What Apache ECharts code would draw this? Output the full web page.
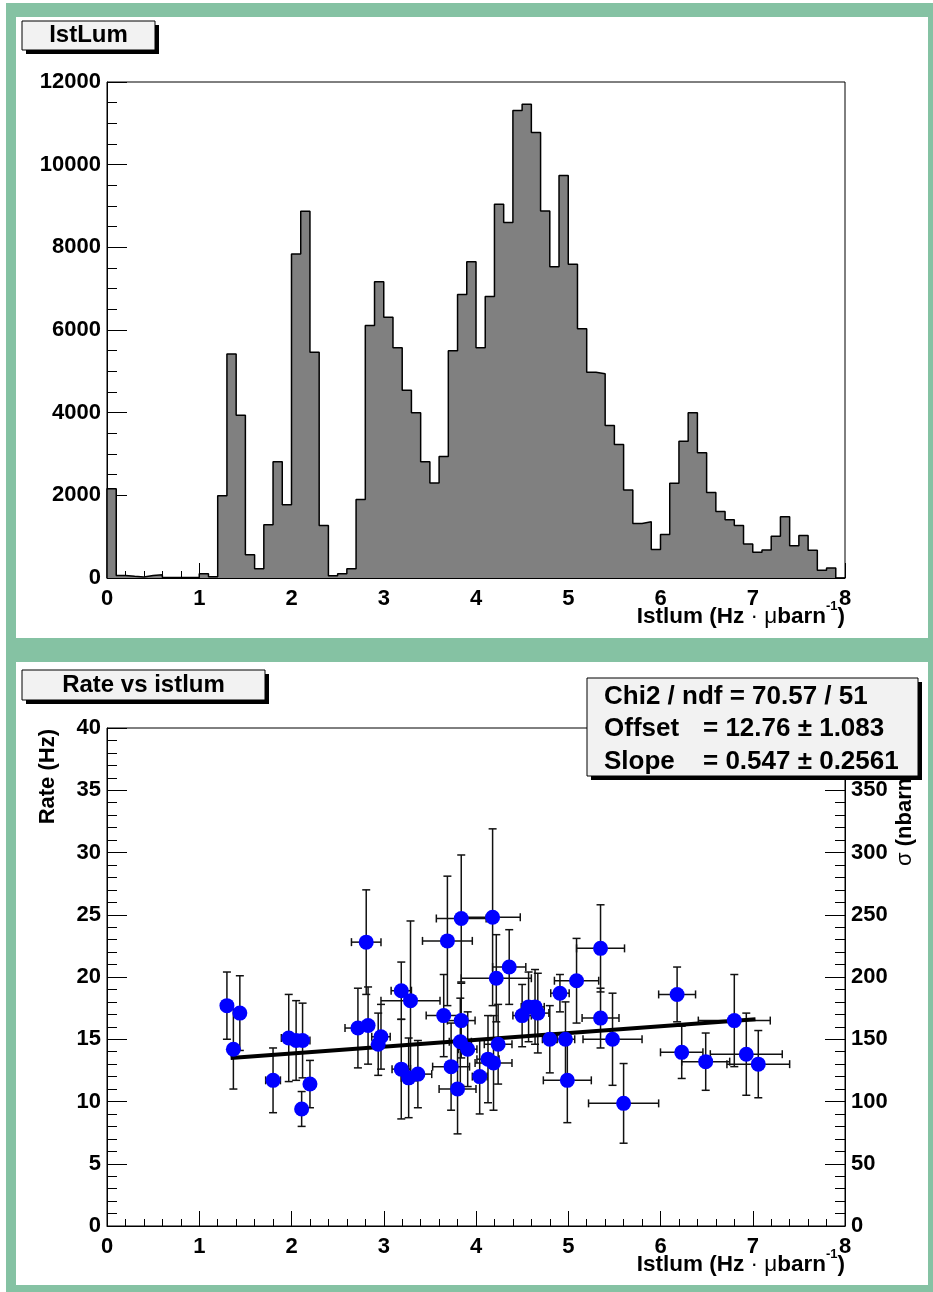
<!DOCTYPE html>
<html><head><meta charset="utf-8">
<script src="https://cdn.jsdelivr.net/npm/echarts@6/dist/echarts.min.js"></script>
<style>
html,body{margin:0;padding:0;background:#fff;}
#chart{width:933px;height:1292px;}
</style></head><body>
<div id="chart"></div>
<script>
// ---------- DATA ----------
// Top histogram: 80 bins of width 0.1 from 0 to 8
const histLow = 0;
const histBinWidth = 0.1;
const histCounts = [
  2160, 60, 40, 25, 60, 80, 15, 10, 10, 10,
  105, 30, 1990, 5420, 3940, 565, 225, 1290, 2810, 1770,
  7840, 8870, 5460, 1270, 55, 105, 225, 1900, 6110, 7170,
  6310, 5570, 4540, 4000, 2810, 2300, 2940, 5500, 6860, 7650,
  5570, 6810, 9040, 8600, 11310, 11460, 10780, 8880, 7530, 9740,
  7590, 6030, 4980, 4940, 3690, 3230, 2130, 1320, 1360, 690,
  1050, 2290, 3310, 4000, 3030, 2070, 1610, 1410, 1270, 820,
  620, 680, 1010, 1480, 780, 1030, 670, 190, 240, 0
];
// Bottom graph: rate vs istlum  [x, y, xErr, yErr]
const rateX = [1.30,1.37,1.44,1.80,1.97,2.05,2.12,2.11,2.20,2.72,2.81,2.83,2.94,2.97,3.19,3.29,3.19,3.27,3.37,3.65,3.69,3.84,3.84,3.83,3.91,3.73,3.80,4.04,4.13,4.19,4.18,4.22,4.24,4.36,4.50,4.57,4.64,4.67,4.80,4.91,4.97,4.99,5.09,5.35,5.35,5.48,5.60,6.18,6.23,6.49,6.80,6.93,7.06];
const rateY = [17.7,14.2,17.1,11.7,15.1,14.9,14.9,9.4,11.4,15.9,22.8,16.1,14.6,15.2,18.9,18.1,12.6,11.9,12.2,16.9,22.9,24.7,16.5,14.8,14.2,12.8,11.0,12.0,13.4,13.1,24.8,19.9,14.6,20.8,16.9,17.6,17.6,17.1,15.0,18.7,15.0,11.7,19.7,22.3,16.7,15.0,9.85,18.6,13.95,13.2,16.5,13.8,13.0];
const rateXErr = [0.03,0.03,0.03,0.08,0.08,0.08,0.08,0.05,0.05,0.14,0.16,0.06,0.06,0.10,0.11,0.32,0.10,0.08,0.15,0.19,0.27,0.27,0.15,0.12,0.10,0.20,0.20,0.08,0.12,0.20,0.30,0.38,0.15,0.18,0.10,0.08,0.10,0.12,0.08,0.10,0.10,0.26,0.24,0.26,0.20,0.32,0.38,0.20,0.23,0.26,0.39,0.39,0.34];
const rateYErr = [2.7,3.2,3.0,2.6,3.5,3.2,3.0,1.4,1.9,3.2,4.2,3.1,2.5,2.6,2.3,6.4,4.0,3.2,2.7,3.3,5.2,5.1,3.0,3.5,3.0,3.5,3.6,3.0,3.5,3.8,7.1,3.5,3.2,3.0,2.5,2.8,3.0,3.2,2.7,1.5,3.0,3.4,3.4,3.5,2.4,3.7,3.2,2.2,2.1,2.3,3.7,3.3,2.7];
// Fit line end points
const fitLine = [[1.34, 13.49], [7.03, 16.61]];
// Texts
const topTitle = 'IstLum';
const bottomTitle = 'Rate vs istlum';
const statsLines = [['Chi2 / ndf = 70.57 / 51', ''], ['Offset', '= 12.76 \u00b1 1.083'], ['Slope', '= 0.547 \u00b1 0.2561']];

// ---------- BUILD ----------
const FONT = '"Liberation Sans", Arial, Helvetica, sans-serif';
const stepPts = [[histLow, 0]];
histCounts.forEach((c, i) => stepPts.push([histLow + i * histBinWidth, c]));
stepPts.push([histLow + histCounts.length * histBinWidth, 0]);

const pts = rateX.map((x, i) => [x, rateY[i], rateXErr[i], rateYErr[i]]);

const GREEN = '#85c2a3';
const labelStyle = {fontFamily: FONT, fontWeight: 'bold', fontSize: 22, color: '#000'};
function xAxisCfg(gi) {
  return {
    type: 'value', gridIndex: gi, min: 0, max: 8, interval: 1,
    axisLine: {show: true, onZero: false, lineStyle: {color: '#000', width: 1}},
    axisTick: {show: true, inside: true, length: 15, lineStyle: {color: '#000', width: 1}},
    minorTick: {show: true, splitNumber: 5, length: 7, lineStyle: {color: '#000', width: 1}},
    splitLine: {show: false},
    axisLabel: Object.assign({margin: 10, formatter: v => String(v), showMinLabel: true, showMaxLabel: true}, labelStyle)
  };
}
function yAxisCfg(gi, max, interval, minorSplit, pos) {
  return {
    type: 'value', gridIndex: gi, min: 0, max: max, interval: interval, position: pos || 'left',
    axisLine: {show: true, onZero: false, lineStyle: {color: '#000', width: 1}},
    axisTick: {show: true, inside: true, length: 20, lineStyle: {color: '#000', width: 1}},
    minorTick: {show: true, splitNumber: minorSplit, length: 10, lineStyle: {color: '#000', width: 1}},
    splitLine: {show: false},
    axisLabel: Object.assign({margin: 6, formatter: v => String(v), showMinLabel: true, showMaxLabel: true}, labelStyle)
  };
}

function titleBox(x, y, w, h, text) {
  return [
    {type: 'rect', z: 100, shape: {x: x + 4, y: y + 4, width: w, height: h}, style: {fill: '#000'}},
    {type: 'rect', z: 101, shape: {x: x, y: y, width: w, height: h}, style: {fill: '#f2f2f2', stroke: '#000', lineWidth: 1}},
    {type: 'text', z: 102, x: x + w / 2, y: y + h / 2, style: {text: text, fill: '#000', font: 'bold 24px ' + FONT, align: 'center', verticalAlign: 'middle'}}
  ];
}

function axisTitle(x, y) {
  return {
    type: 'text', z: 50, x: x, y: y,
    style: {
      text: '{a|Istlum (Hz }{m|\u00b7}{a| }{m|\u03bc}{a|barn}{s|-1}{a|)}',
      align: 'right', verticalAlign: 'middle',
      rich: {
        a: {fontFamily: FONT, fontWeight: 'bold', fontSize: 22.5, lineHeight: 28, verticalAlign: 'bottom', fill: '#000'},
        m: {fontFamily: FONT, fontWeight: 'normal', fontSize: 22.5, lineHeight: 28, verticalAlign: 'bottom', fill: '#000'},
        s: {fontFamily: FONT, fontWeight: 'bold', fontSize: 13, lineHeight: 13, verticalAlign: 'top', fill: '#000'}
      }
    }
  };
}

const graphics = [
  {type: 'rect', z: -100, shape: {x: 6, y: 3, width: 927, height: 1289}, style: {fill: GREEN}},
  {type: 'rect', z: -99, shape: {x: 16, y: 17, width: 912, height: 621}, style: {fill: '#fff'}},
  {type: 'rect', z: -99, shape: {x: 16, y: 662, width: 912, height: 623}, style: {fill: '#fff'}},
  ...titleBox(22, 21, 133, 29, topTitle),
  ...titleBox(22, 670, 243, 30, bottomTitle),
  axisTitle(845, 614),
  axisTitle(845, 1262),
  {type: 'text', z: 50, x: 48, y: 729, rotation: Math.PI / 2,
   style: {text: 'Rate (Hz)', fill: '#000', font: 'bold 22px ' + FONT, align: 'right', verticalAlign: 'middle'}},
  {type: 'text', z: 50, x: 905, y: 866, rotation: Math.PI / 2,
   style: {text: '{g|\u03c3}{a| (nbarn)}', align: 'left', verticalAlign: 'middle',
     rich: {g: {fontFamily: FONT, fontSize: 22, fill: '#000'}, a: {fontFamily: FONT, fontWeight: 'bold', fontSize: 22, fill: '#000'}}}},
  // stats box
  {type: 'rect', z: 100, shape: {x: 591, y: 682, width: 331, height: 98}, style: {fill: '#000'}},
  {type: 'rect', z: 101, shape: {x: 587, y: 678, width: 331, height: 98}, style: {fill: '#f2f2f2', stroke: '#000', lineWidth: 1}}
];
const statY = [697, 729, 762];
statsLines.forEach((ln, i) => {
  graphics.push({type: 'text', z: 102, x: 604, y: statY[i], style: {text: ln[0], fill: '#000', font: 'bold 26px ' + FONT, align: 'left', verticalAlign: 'middle'}});
  if (ln[1]) graphics.push({type: 'text', z: 102, x: 703, y: statY[i], style: {text: ln[1], fill: '#000', font: 'bold 26px ' + FONT, align: 'left', verticalAlign: 'middle'}});
});

const chart = echarts.init(document.getElementById('chart'), null, {renderer: 'canvas'});
chart.setOption({
  backgroundColor: '#ffffff',
  animation: false,
  grid: [
    {left: 107, top: 82, width: 738, height: 496, show: true, borderColor: '#000', borderWidth: 1, backgroundColor: 'transparent'},
    {left: 107, top: 728, width: 738, height: 498, show: true, borderColor: '#000', borderWidth: 1, backgroundColor: 'transparent'}
  ],
  xAxis: [xAxisCfg(0), xAxisCfg(1)],
  yAxis: [
    yAxisCfg(0, 12000, 2000, 4, 'left'),
    yAxisCfg(1, 40, 5, 5, 'left'),
    yAxisCfg(1, 400, 50, 5, 'right')
  ],
  graphic: graphics,
  series: [
    {type: 'line', xAxisIndex: 0, yAxisIndex: 0, data: stepPts, step: 'end', symbol: 'none',
     lineStyle: {color: '#000', width: 1.5}, areaStyle: {color: '#808080', opacity: 1}, z: 2},
    {type: 'custom', xAxisIndex: 1, yAxisIndex: 1, data: pts, encode: {x: 0, y: 1}, z: 3,
     renderItem: function (params, api) {
       const x = api.value(0), y = api.value(1), ex = api.value(2), ey = api.value(3);
       const l = api.coord([x - ex, y]), r = api.coord([x + ex, y]);
       const t = api.coord([x, y + ey]), b = api.coord([x, y - ey]);
       const cap = 4, st = {stroke: '#111', lineWidth: 1.5};
       return {type: 'group', children: [
         {type: 'line', shape: {x1: l[0], y1: l[1], x2: r[0], y2: r[1]}, style: st},
         {type: 'line', shape: {x1: t[0], y1: t[1], x2: b[0], y2: b[1]}, style: st},
         {type: 'line', shape: {x1: l[0], y1: l[1] - cap, x2: l[0], y2: l[1] + cap}, style: st},
         {type: 'line', shape: {x1: r[0], y1: r[1] - cap, x2: r[0], y2: r[1] + cap}, style: st},
         {type: 'line', shape: {x1: t[0] - cap, y1: t[1], x2: t[0] + cap, y2: t[1]}, style: st},
         {type: 'line', shape: {x1: b[0] - cap, y1: b[1], x2: b[0] + cap, y2: b[1]}, style: st}
       ]};
     }},
    {type: 'line', xAxisIndex: 1, yAxisIndex: 1, data: fitLine, symbol: 'none',
     lineStyle: {color: '#000', width: 4}, z: 4},
    {type: 'scatter', xAxisIndex: 1, yAxisIndex: 1, data: pts.map(p => [p[0], p[1]]),
     symbol: 'circle', symbolSize: 15, itemStyle: {color: '#0000ff', opacity: 1}, z: 5}
  ]
});
</script>
</body></html>
